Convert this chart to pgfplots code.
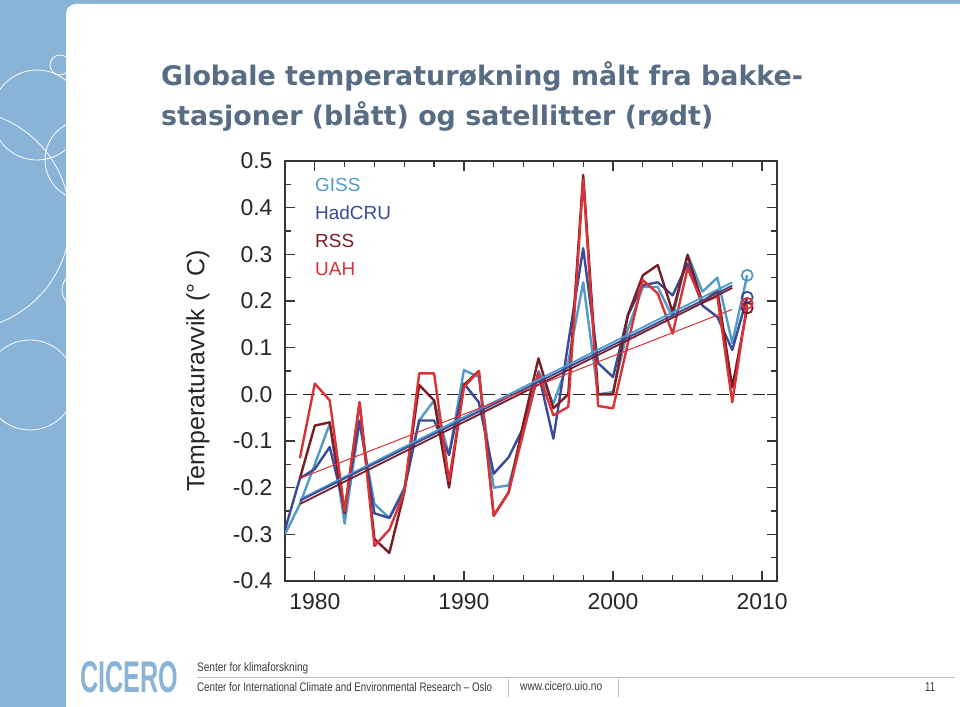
\documentclass[border=0pt]{standalone}
\usepackage{pgfplots}
\pgfplotsset{compat=1.18}
\usepackage{fontspec}
\setmainfont{Liberation Sans}
\newfontfamily\titlefont{DejaVu Sans}
\definecolor{slideblue}{RGB}{137,180,216}
\definecolor{titlecol}{RGB}{88,108,132}
\definecolor{footgray}{RGB}{60,60,60}
\definecolor{axisgray}{RGB}{55,55,55}
\definecolor{giss}{RGB}{80,155,200}
\definecolor{hadcru}{RGB}{58,74,150}
\definecolor{rss}{RGB}{122,30,36}
\definecolor{uah}{RGB}{218,50,55}

\pgfplotstableread{
x y
1978 -0.300
1979 -0.235
1980 -0.150
1981 -0.063
1982 -0.277
1983 -0.060
1984 -0.235
1985 -0.265
1986 -0.200
1987 -0.056
1988 -0.013
1989 -0.130
1990 0.052
1991 0.037
1992 -0.200
1993 -0.195
1994 -0.080
1995 0.050
1996 -0.020
1997 0.070
1998 0.240
1999 0.000
2000 0.005
2001 0.140
2002 0.230
2003 0.230
2004 0.165
2005 0.300
2006 0.220
2007 0.250
2008 0.110
2009 0.255
}\gissdata

\pgfplotstableread{
x y
1978 -0.290
1979 -0.180
1980 -0.160
1981 -0.113
1982 -0.245
1983 -0.056
1984 -0.255
1985 -0.265
1986 -0.205
1987 -0.056
1988 -0.056
1989 -0.130
1990 0.023
1991 -0.017
1992 -0.170
1993 -0.135
1994 -0.070
1995 0.045
1996 -0.095
1997 0.110
1998 0.313
1999 0.067
2000 0.037
2001 0.170
2002 0.234
2003 0.240
2004 0.212
2005 0.280
2006 0.190
2007 0.166
2008 0.095
2009 0.208
}\hadcrudata

\pgfplotstableread{
x y
1979 -0.180
1980 -0.067
1981 -0.060
1982 -0.255
1983 -0.017
1984 -0.310
1985 -0.340
1986 -0.210
1987 0.020
1988 -0.013
1989 -0.200
1990 0.020
1991 0.050
1992 -0.260
1993 -0.210
1994 -0.060
1995 0.077
1996 -0.030
1997 0.000
1998 0.470
1999 0.000
2000 0.000
2001 0.170
2002 0.255
2003 0.277
2004 0.176
2005 0.298
2006 0.197
2007 0.223
2008 0.015
2009 0.185
}\rssdata

\pgfplotstableread{
x y
1979 -0.137
1980 0.023
1981 -0.013
1982 -0.250
1983 -0.017
1984 -0.325
1985 -0.290
1986 -0.210
1987 0.045
1988 0.045
1989 -0.185
1990 0.015
1991 0.050
1992 -0.260
1993 -0.210
1994 -0.080
1995 0.045
1996 -0.045
1997 -0.027
1998 0.460
1999 -0.025
2000 -0.030
2001 0.110
2002 0.245
2003 0.216
2004 0.130
2005 0.270
2006 0.197
2007 0.210
2008 -0.017
2009 0.195
}\uahdata

\begin{document}
\begin{tikzpicture}
\begin{scope}[x=1bp,y=1bp]
\useasboundingbox (0,0) rectangle (960,707);
% slide background
\fill[slideblue] (0,0) rectangle (960,707);
\begin{scope}
\clip (0,0) rectangle (66,703);
\draw[white, line width=0.8bp] (60,642) circle (10);
\draw[white, line width=0.8bp] (37,592) circle (45);
\draw[white, line width=0.8bp] (-40,487) circle (110);
\draw[white, line width=0.8bp] (85,547) circle (40);
\draw[white, line width=0.8bp] (80,417) circle (18);
\draw[white, line width=0.8bp] (30,322) circle (45);
\end{scope}
\fill[white, rounded corners=10bp] (66,-30) rectangle (990,703);

% title
\node[anchor=base west, inner sep=0pt, text=titlecol, font=\titlefont\bfseries\fontsize{27}{32}\selectfont] at (161,621) {Globale temperaturøkning målt fra bakke-};
\node[anchor=base west, inner sep=0pt, text=titlecol, font=\titlefont\bfseries\fontsize{27}{32}\selectfont] at (161,581) {stasjoner (blått) og satellitter (rødt)};

% footer
\node[anchor=base west, inner sep=0pt, text=slideblue, font=\bfseries] at (80,14) {\resizebox{98bp}{31bp}{CICERO}};
\draw[black!25, line width=0.8bp] (197,30) -- (955,30);
\draw[black!25, line width=0.8bp] (508,10) -- (508,28);
\draw[black!25, line width=0.8bp] (618,10) -- (618,28);
\node[anchor=base west, inner sep=0pt, text=footgray] at (197,35) {\resizebox{111bp}{9bp}{Senter for klimaforskning}};
\node[anchor=base west, inner sep=0pt, text=footgray] at (197,15) {\resizebox{295bp}{9bp}{Center for International Climate and Environmental Research -- Oslo}};
\node[anchor=base west, inner sep=0pt, text=footgray] at (520,16) {\resizebox{82bp}{9bp}{www.cicero.uio.no}};
\node[anchor=base west, inner sep=0pt, text=footgray] at (925,15) {\resizebox{10bp}{9bp}{11}};
\end{scope}

\begin{axis}[
  at={(285bp,126bp)}, anchor=south west,
  scale only axis, width=492bp, height=420bp,
  xmin=1978, xmax=2011, ymin=-0.4, ymax=0.5,
  xtick={1980,1990,2000,2010},
  minor xtick={1978,1982,1984,1986,1988,1992,1994,1996,1998,2002,2004,2006,2008},
  ytick={-0.4,-0.3,-0.2,-0.1,0,0.1,0.2,0.3,0.4,0.5},
  minor ytick={-0.35,-0.25,-0.15,-0.05,0.05,0.15,0.25,0.35,0.45},
  /pgf/number format/assume math mode=true,
  /pgf/number format/1000 sep={},
  yticklabel style={/pgf/number format/fixed, /pgf/number format/fixed zerofill, /pgf/number format/precision=1, xshift=-9bp},
  tick align=inside,
  major tick length=10bp, minor tick length=6bp,
  every tick/.style={line width=1.3bp, color=axisgray},
  axis line style={line width=1.5bp, color=axisgray},
  tick label style={font=\fontsize{23}{26}\selectfont, text=black!85},
  xticklabel style={yshift=-9bp},
  ylabel={Temperaturavvik (° C)},
  ylabel style={font=\fontsize{25}{28}\selectfont, at={(axis description cs:-0.177,0.5)}, anchor=center, text=black!85},
  legend style={draw=none, fill=none, at={(axis description cs:0.061,0.962)}, anchor=north west, inner sep=0pt, row sep=14bp, font=\fontsize{19}{19}\selectfont, nodes={inner sep=0pt, text height=14bp, text depth=0bp}},
  legend image code/.code={},
  legend cell align=left,
]
\addplot[black!85, line width=1.6bp, dash pattern=on 12bp off 6bp, forget plot] coordinates {(1978,0) (2011,0)};

\addplot[giss, line width=2.4bp, line join=round] table {\gissdata};
\addlegendentry{\textcolor{giss}{GISS}}
\addplot[hadcru, line width=2.4bp, line join=round] table {\hadcrudata};
\addlegendentry{\textcolor{hadcru}{HadCRU}}
\addplot[rss, line width=2.4bp, line join=round] table {\rssdata};
\addlegendentry{\textcolor{rss}{RSS}}
\addplot[uah, line width=2.4bp, line join=round] table {\uahdata};
\addlegendentry{\textcolor{uah}{UAH}}

% linear trends 1979-2008
\addplot[giss, line width=1.8bp, forget plot] coordinates {(1979,-0.225) (2008,0.240)};
\addplot[rss, line width=1.8bp, forget plot] coordinates {(1979,-0.235) (2008,0.228)};
\addplot[hadcru, line width=1.8bp, forget plot] coordinates {(1979,-0.228) (2008,0.233)};
\addplot[uah, line width=1.0bp, forget plot] coordinates {(1979,-0.180) (2008,0.182)};

% 2009 (partial year)
\addplot[giss, only marks, mark=o, mark size=5.5bp, line width=1.8bp, forget plot] coordinates {(2009,0.255)};
\addplot[hadcru, only marks, mark=o, mark size=5.5bp, line width=1.8bp, forget plot] coordinates {(2009,0.208)};
\addplot[rss, only marks, mark=o, mark size=5.5bp, line width=1.8bp, forget plot] coordinates {(2009,0.185)};
\addplot[uah, only marks, mark=o, mark size=5.5bp, line width=1.8bp, forget plot] coordinates {(2009,0.195)};
\end{axis}
\end{tikzpicture}
\end{document}
